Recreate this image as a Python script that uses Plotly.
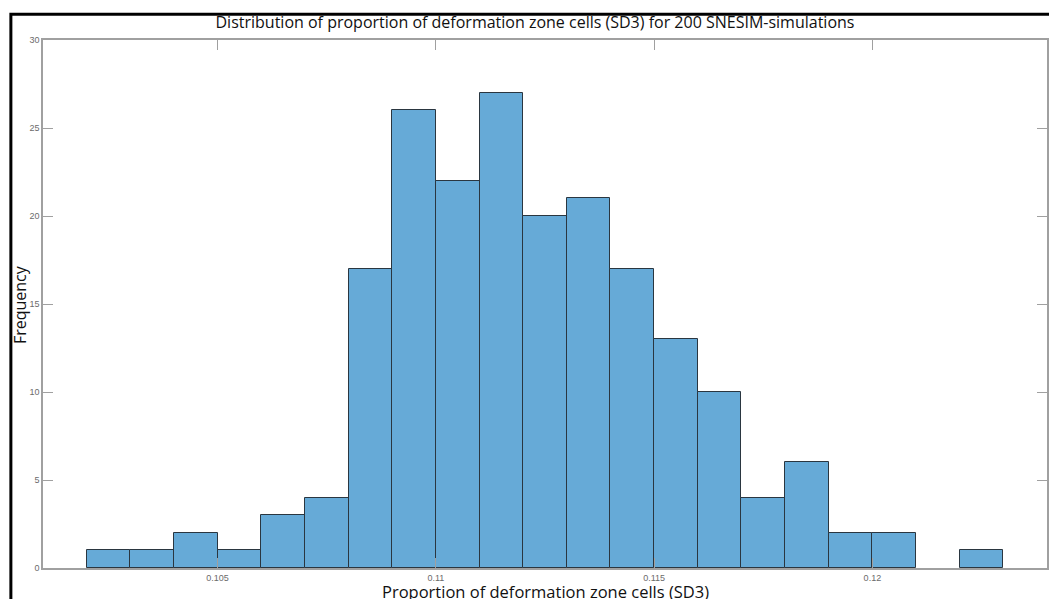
import plotly.graph_objects as go

# Histogram bins (centers, width 0.001) and counts
bin_centers = [0.1025, 0.1035, 0.1045, 0.1055, 0.1065, 0.1075, 0.1085, 0.1095,
               0.1105, 0.1115, 0.1125, 0.1135, 0.1145, 0.1155, 0.1165, 0.1175,
               0.1185, 0.1195, 0.1205, 0.1215, 0.1225]
counts = [1, 1, 2, 1, 3, 4, 17, 26, 22, 27, 20, 21, 17, 13, 10, 4, 6, 2, 2, 0, 1]
bin_width = 0.001
x_ticks = [0.105, 0.11, 0.115, 0.12]
x_tick_labels = ["0.105", "0.11", "0.115", "0.12"]
y_ticks = [0, 5, 10, 15, 20, 25, 30]

plot_counts = [c if c > 0 else None for c in counts]

fig = go.Figure()
fig.add_trace(go.Bar(
    x=bin_centers, y=plot_counts, width=[bin_width] * len(bin_centers),
    marker=dict(color="#66aad7", line=dict(color="#2a3640", width=1)),
    hoverinfo="x+y",
))

axis_common = dict(
    showgrid=False, zeroline=False, showline=True, linecolor="#a0a0a0", linewidth=1.5,
    ticks="inside", ticklen=10, tickcolor="#a0a0a0", tickwidth=1.2, mirror="ticks",
    tickfont=dict(family="Liberation Sans, Arial, sans-serif", size=9, color="#6b6b6b"),
)

fig.update_layout(
    width=1049, height=599,
    margin=dict(l=43, r=0, t=40, b=31),
    paper_bgcolor="white", plot_bgcolor="white",
    showlegend=False, bargap=0,
    title=dict(
        text="Distribution of proportion of deformation zone cells (SD3) for 200 SNESIM-simulations",
        x=0.51, xanchor="center", y=0.962, yanchor="middle",
        font=dict(family="Open Sans, sans-serif", size=16, color="#111111"),
    ),
    xaxis=dict(
        range=[0.101, 0.124], tickvals=x_ticks, ticktext=x_tick_labels,
        **axis_common,
    ),
    yaxis=dict(
        range=[0, 30], tickvals=y_ticks,
        **axis_common,
    ),
    annotations=[
        dict(text="Proportion of deformation zone cells (SD3)", xref="paper", yref="paper",
             x=0.5, y=0, xanchor="center", yanchor="middle", yshift=-23, showarrow=False,
             font=dict(family="Open Sans, sans-serif", size=16.5, color="#111111")),
        dict(text="Frequency", xref="paper", yref="paper", textangle=-90,
             x=0, y=0.498, xanchor="center", yanchor="middle", xshift=-23, showarrow=False,
             font=dict(family="Open Sans, sans-serif", size=16, color="#111111")),
    ],
    shapes=[
        dict(type="rect", xref="paper", yref="paper", x0=-0.032, x1=1.05, y0=-0.2, y1=1.049,
             line=dict(color="black", width=3), fillcolor="rgba(0,0,0,0)", layer="above"),
    ],
)

fig.write_html("out.html")
